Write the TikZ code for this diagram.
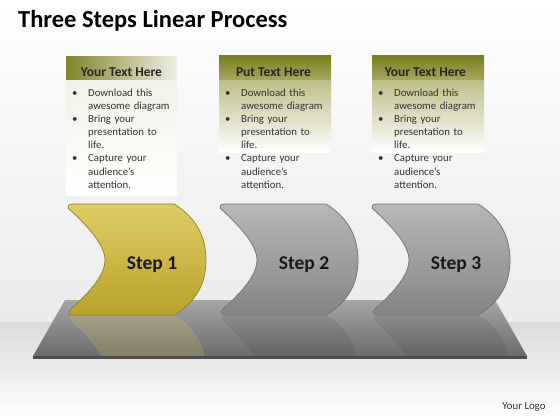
\documentclass[tikz,border=0pt]{standalone}
\usepackage{fontspec}
\setmainfont{Carlito}
\usetikzlibrary{shapes}

\definecolor{hdrolive}{HTML}{7B7D1E}
\definecolor{hdrlight}{HTML}{A9AA62}
\definecolor{stepgold}{HTML}{DCC653}
\definecolor{stepgolddk}{HTML}{B9A22B}
\definecolor{stepgrey}{HTML}{B8B8B8}
\definecolor{stepgreydk}{HTML}{848484}

\tikzstyle{header} = [font=\bfseries\fontsize{13.5}{13.5}\selectfont,
    text=black!85]
\tikzstyle{bullets} = [font=\fontsize{10.8}{13.2}\selectfont,
    text=black!80, text width=104pt, align=left, inner sep=0pt,
    anchor=base west]
\tikzstyle{steplabel} = [font=\bfseries\fontsize{19.5}{19.5}\selectfont,
    text=black!90]
\tikzstyle{goldstep} = [top color=stepgold!90!white, bottom color=stepgolddk,
    draw=stepgolddk!80!black, line width=0.7pt]
\tikzstyle{greystep} = [top color=stepgrey, bottom color=stepgreydk,
    draw=black!55, line width=0.7pt]

% one bullet item: the dot, then the lines of text
\newcommand{\bul}[1]{{\leftskip=16pt\noindent
  \llap{\makebox[16pt][l]{\textbullet}}#1\par}}
\newcommand{\itemtext}{%
  \bul{Download this\\awesome diagram}%
  \bul{Bring your\\presentation to\\life.}%
  \bul{Capture your\\audience's\\attention.}}
% the step shape, #1 = its left x, #2 = the look
\newcommand{\chevron}[2]{%
  \path[#2, shift={(#1,204)}] (0,4) .. controls (0,1) and (1,0) .. (4,0)
    -- (106,0) .. controls (129,14) and (138,34) .. (138,56)
    .. controls (138,80) and (128,98) .. (106,111) -- (5,111)
    .. controls (1,111) and (0,108) .. (3,105)
    .. controls (24,86) and (37,70) .. (37,56)
    .. controls (37,42) and (22,24) .. (0,4) -- cycle;}

\begin{document}
\begin{tikzpicture}[x=1pt, y=-1pt, node distance=152pt]
    \useasboundingbox (0,0) rectangle (560,420);
    % We start with the wall, the floor and the platform
    \shade[top color=white, bottom color=black!8] (0,0) rectangle (560,322);
    \shade[top color=black!14, bottom color=white] (0,322) rectangle (560,420);
    \shade[top color=black!35, bottom color=black!58]
        (65,300) -- (495,300) -- (527,356) -- (33,356) -- cycle;
    \fill[black!70] (33,356) -- (527,356) -- (527,359) -- (33,359) -- cycle;
    % faint reflections of the steps in the platform
    \begin{scope}
        \clip (65,300) -- (495,300) -- (527,356) -- (33,356) -- cycle;
        \begin{scope}[shift={(0,630)}, yscale=-1]
            \chevron{68}{fill=stepgold, fill opacity=0.22}
            \chevron{220}{fill=black, fill opacity=0.07}
            \chevron{372}{fill=black, fill opacity=0.07}
        \end{scope}
    \end{scope}

    \node[font=\bfseries\fontsize{24.5}{24.5}\selectfont, anchor=base west,
        inner sep=0pt] (title) at (18,28) {Three Steps Linear Process};

    % The three text boxes, header band and fading panel
    \shade[left color=hdrolive!95!white, right color=hdrolive!12!white]
        (66,57) rectangle (177,81);
    \shade[top color=hdrolive!10!white, bottom color=white]
        (66,81) rectangle (177,195);
    \shade[top color=hdrolive, bottom color=hdrlight] (219,56) rectangle (331,81);
    \shade[top color=hdrlight!75!white, bottom color=white]
        (219,81) rectangle (331,152);
    \shade[top color=hdrolive, bottom color=hdrlight] (372,56) rectangle (484,81);
    \shade[top color=hdrlight!75!white, bottom color=white]
        (372,81) rectangle (484,152);

    \node[header] (head1) at (121.5,72.5) {Your Text Here};
    \node[header, right of=head1] (head2) {Put Text Here};
    \node[header, right of=head2] (head3) {Your Text Here};

    \node[bullets] (list1) at (72,96) {\itemtext};
    \node[bullets] (list2) at (225,96) {\itemtext};
    \node[bullets] (list3) at (378,96) {\itemtext};

    % Now the steps standing on the platform
    \chevron{68}{goldstep}
    \chevron{220}{greystep}
    \chevron{372}{greystep}
    \node[steplabel] (step1) at (152,265) {Step 1};
    \node[steplabel, right of=step1] (step2) {Step 2};
    \node[steplabel, right of=step2] (step3) {Step 3};

    \node[font=\fontsize{10.8}{10.8}\selectfont, text=black!80, anchor=base east]
        (logo) at (549,409.5) {Your Logo};
\end{tikzpicture}
\end{document}
